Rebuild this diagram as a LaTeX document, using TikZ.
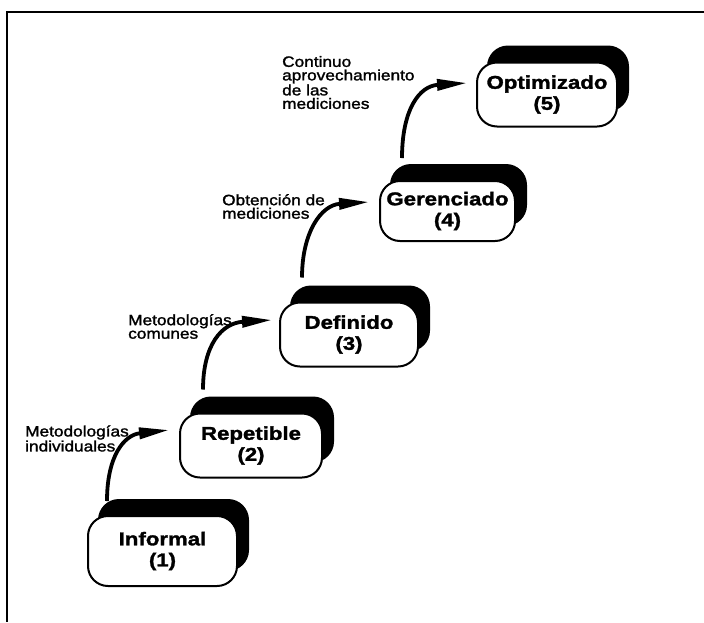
\documentclass[tikz,border=0pt]{standalone}
\usepackage{fontspec}
\setmainfont{Liberation Sans}
\newfontfamily\lblfont[FakeStretch=1.15,FakeBold=1.6]{Liberation Sans}
\newfontfamily\boxfont[FakeStretch=1.2,FakeBold=1.6]{Liberation Sans Bold}
\usetikzlibrary{arrows.meta,calc}
\begin{document}
\begin{tikzpicture}[x=1pt,y=-1pt,
  stage/.style={draw,line width=2pt,fill=white,rounded corners=20pt,
    minimum width=140pt,minimum height=64pt,align=center,inner sep=0pt,
    font=\boxfont\fontsize{18.5}{21}\selectfont,
    preaction={draw=black,fill=black,transform canvas={xshift=11pt,yshift=16pt}}},
  lbl/.style={anchor=west,align=left,inner sep=0pt,
    font=\lblfont\fontsize{15}{13.5}\selectfont},
  arr/.style={line width=3.8pt,-{Triangle[length=30pt,width=11pt]}},
  frameline/.style={line width=1.8pt}]
\useasboundingbox (0,0) rectangle (704,622);
% frame
\coordinate (fTR) at (704,12);
\coordinate (fTL) at (7,12);
\coordinate (fBL) at (7,622);
\draw[frameline] (fTR) -- (fTL) -- (fBL);
% stages
\node[stage,minimum width=149pt,minimum height=70pt] (b1) at (162.5,551) {Informal\\(1)};
\node[stage,minimum width=142pt] (b2) at (251,445.5) {Repetible\\(2)};
\node[stage,minimum width=138pt] (b3) at (349,334.5) {Definido\\(3)};
\node[stage,minimum width=135pt,minimum height=60pt] (b4) at (447.5,211) {Gerenciado\\(4)};
\node[stage] (b5) at (547,94.5) {Optimizado\\(5)};
% labels
\node[lbl] (l1) at (25,438.5) {Metodologías\\individuales};
\node[lbl] (l2) at (128,326.5) {Metodologías\\comunes};
\node[lbl] (l3) at (222,206.5) {Obtención de\\mediciones};
\node[lbl] (l4) at (282,82.5) {Continuo\\aprovechamiento\\de las\\mediciones};
% arrows
\draw[arr] ($(b1.north west)+(20,-14)$) .. controls +(0,-45) and +(-45,5) .. ($(b2.west)+(-10,-15.5)$);
\draw[arr] ($(b2.north west)+(24,-23)$) .. controls +(0,-45) and +(-50,3) .. ($(b3.west)+(-7,-14.5)$);
\draw[arr] ($(b3.north west)+(23,-24)$) .. controls +(0,-45) and +(-48,3) .. ($(b4.west)+(-10,-9)$);
\draw[arr] ($(b4.north west)+(23,-22)$) .. controls +(0,-48) and +(-48,3) .. ($(b5.west)+(-9,-11.5)$);
\end{tikzpicture}
\end{document}
